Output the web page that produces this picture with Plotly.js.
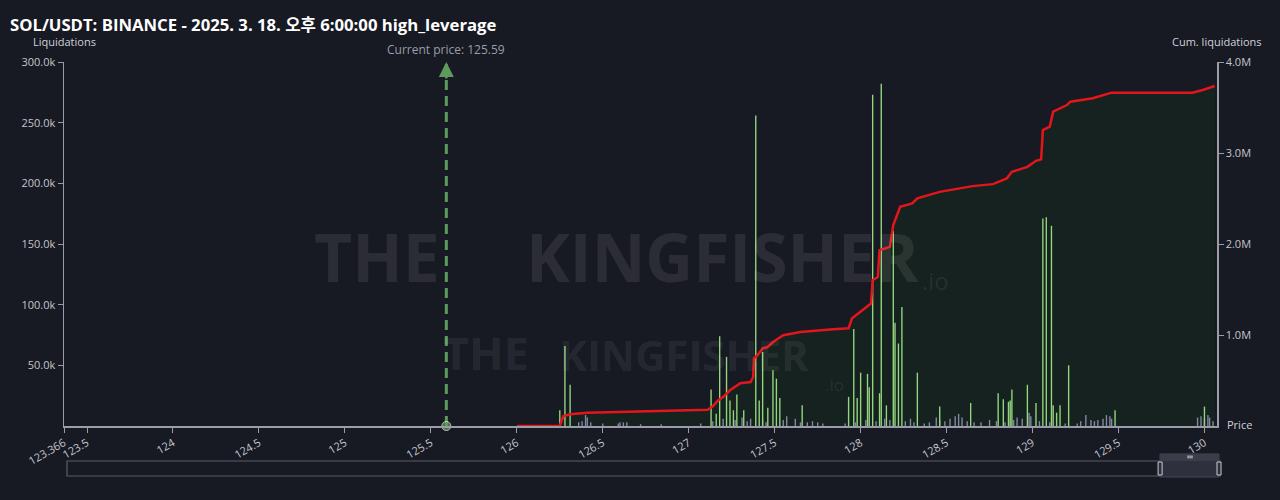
<!DOCTYPE html>
<html>
<head>
<meta charset="utf-8">
<script src="https://cdn.plot.ly/plotly-3.0.1.min.js"></script>
<style>
  html, body { margin: 0; padding: 0; background: #171923; }
  #chart { width: 1280px; height: 500px; }
</style>
</head>
<body>
<div id="chart"></div>
<script>
// liquidation bars (price, value)
var greenPrice = [126.25, 126.28, 126.31, 127.13, 127.16, 127.18, 127.22, 127.24, 127.26, 127.28, 127.32,
  127.39, 127.41, 127.43, 127.46, 127.49, 127.51, 127.53, 127.66, 127.93, 127.96, 127.98, 128.00, 128.04,
  128.05, 128.07, 128.11, 128.12, 128.15, 128.19, 128.20, 128.22, 128.24, 128.33, 128.46, 128.64, 128.80,
  128.83, 128.86, 128.87, 128.88, 128.97, 129.02, 129.06, 129.08, 129.11, 129.12, 129.14, 129.16, 129.21,
  129.48, 130.00];
var greenValue = [13000, 66000, 34000, 30000, 10000, 74000, 57000, 21000, 13000, 26000, 13000,
  256000, 21000, 61000, 15000, 46000, 39000, 23000, 17000, 24000, 80000, 23000, 44000, 43000,
  32000, 273000, 27000, 282000, 17000, 161000, 85000, 68000, 98000, 44000, 16000, 19000, 27000,
  22000, 20000, 21000, 30000, 34000, 19000, 171000, 172000, 165000, 17000, 11000, 17000, 50000,
  13000, 16000];

var grayPrice = [126.36, 126.38, 126.40, 126.41, 126.43, 126.50, 126.59, 126.60, 126.62, 126.64, 126.72,
  126.84, 127.07, 127.14, 127.20, 127.27, 127.31, 127.34, 127.36, 127.43, 127.45, 127.55, 127.57, 127.62,
  127.65, 127.69, 127.72, 127.75, 127.78, 127.91, 127.97, 128.03, 128.09, 128.14, 128.17, 128.26, 128.29,
  128.31, 128.37, 128.40, 128.44, 128.46, 128.49, 128.52, 128.55, 128.57, 128.59, 128.62, 128.66, 128.70,
  128.75, 128.79, 128.84, 128.89, 128.91, 128.94, 128.98, 128.99, 129.04, 129.10, 129.19, 129.26, 129.28,
  129.31, 129.34, 129.36, 129.38, 129.41, 129.43, 129.45, 129.46, 129.96, 129.98, 130.00, 130.02, 130.03,
  130.05];
var grayValue = [3000, 4000, 9000, 7000, 3000, 2000, 2000, 3000, 3000, 3000, 1500,
  1500, 2000, 4000, 6000, 5000, 7000, 4000, 6000, 5000, 3000, 5000, 8000, 6000,
  3000, 3000, 4000, 3000, 2000, 2000, 3000, 5000, 4000, 6000, 5000, 4000, 6000,
  3000, 2000, 3000, 7000, 5000, 4000, 6000, 8000, 10000, 7000, 4000, 3000, 3000,
  5000, 4000, 3000, 5000, 7000, 6000, 11000, 8000, 4000, 3000, 2000, 2000, 4000,
  9000, 5000, 4000, 5000, 6000, 9000, 8000, 6000, 7000, 8000, 6000, 9000, 7000,
  4000];

// cumulative liquidations line
var cumPrice = [126.00, 126.25, 126.27, 126.31, 126.41, 126.78, 127.11, 127.14, 127.17, 127.20, 127.24,
  127.30, 127.36, 127.375, 127.38, 127.40, 127.43, 127.46, 127.49, 127.55, 127.65, 127.84, 127.93, 127.95,
  128.00, 128.06, 128.07, 128.10, 128.11, 128.17, 128.19, 128.23, 128.30, 128.33, 128.46, 128.65, 128.77,
  128.85, 128.88, 128.97, 129.02, 129.05, 129.06, 129.10, 129.12, 129.20, 129.22, 129.35, 129.46, 129.93,
  129.99, 130.06];
var cumValue = [0, 0, 106000, 128000, 146000, 165000, 179000, 216000, 282000, 318000, 392000,
  469000, 483000, 538000, 744000, 777000, 854000, 868000, 923000, 997000, 1033000, 1063000, 1074000, 1184000,
  1253000, 1346000, 1602000, 1638000, 1932000, 1968000, 2207000, 2408000, 2446000, 2501000, 2573000, 2636000, 2658000,
  2721000, 2793000, 2848000, 2914000, 2930000, 3252000, 3289000, 3454000, 3527000, 3564000, 3601000, 3663000, 3663000,
  3692000, 3736000];

var currentPrice = 125.59;

var xTickVals = [123.366, 123.5, 124, 124.5, 125, 125.5, 126, 126.5, 127, 127.5, 128, 128.5, 129, 129.5, 130];
var xTickText = ['123.366', '123.5', '124', '124.5', '125', '125.5', '126', '126.5', '127', '127.5', '128', '128.5', '129', '129.5', '130'];
var leftTickVals = [50000, 100000, 150000, 200000, 250000, 300000];
var leftTickText = ['50.0k', '100.0k', '150.0k', '200.0k', '250.0k', '300.0k'];
var rightTickVals = [1000000, 2000000, 3000000, 4000000];
var rightTickText = ['1.0M', '2.0M', '3.0M', '4.0M'];

var axisColor = '#9a9ca8';
var tickFont = {family: 'Open Sans, sans-serif', size: 11, color: '#c4c6cf'};
var labelFont = {family: 'Open Sans, sans-serif', size: 11, color: '#d0d2da'};
var priceGreen = '#5f9a5d';

var traces = [
  {x: cumPrice, y: cumValue, yaxis: 'y', type: 'scatter', mode: 'none',
   fill: 'tozeroy', fillcolor: '#16221f', hoverinfo: 'skip'},
  {x: grayPrice, y: grayValue, yaxis: 'y2', type: 'bar', width: 0.008,
   marker: {color: '#8587a2', line: {width: 0}}},
  {x: greenPrice, y: greenValue, yaxis: 'y2', type: 'bar', width: 0.008,
   marker: {color: '#93d67e', line: {width: 0}}},
  {x: [currentPrice, currentPrice], y: [0, 300000], yaxis: 'y2', type: 'scatter', mode: 'lines+markers',
   line: {color: priceGreen, width: 3, dash: '10px,6px'},
   marker: {size: [9, 0], color: priceGreen}, cliponaxis: false},
  {x: cumPrice, y: cumValue, yaxis: 'y3', type: 'scatter', mode: 'lines',
   line: {color: '#e3161b', width: 2.5}}
];

var wm = 'rgba(255,255,255,0.085)';
var wmFont = 'Open Sans, sans-serif';

// range slider drawn as plain shapes below the x axis
var sliderShapes = [
  {type: 'rect', xref: 'paper', yref: 'paper', x0: 0.0026, x1: 1.0026, y0: -0.1374, y1: -0.0962,
   fillcolor: 'rgba(0,0,0,0)', line: {color: '#5a5d6a', width: 1.2}},
  {type: 'rect', xref: 'paper', yref: 'paper', x0: 0.9506, x1: 1.0017, y0: -0.1401, y1: -0.0769,
   fillcolor: '#2e313d', line: {color: '#464957', width: 1}},
  {type: 'rect', xref: 'paper', yref: 'paper', x0: 0.9506, x1: 1.0017, y0: -0.0962, y1: -0.0769,
   fillcolor: '#3a3d4a', line: {width: 0}},
  {type: 'rect', xref: 'paper', yref: 'paper', x0: 0.9489, x1: 0.9524, y0: -0.1346, y1: -0.0989,
   fillcolor: '#2e313d', line: {color: '#c8cad2', width: 1}},
  {type: 'rect', xref: 'paper', yref: 'paper', x0: 1.0000, x1: 1.0035, y0: -0.1346, y1: -0.0989,
   fillcolor: '#2e313d', line: {color: '#c8cad2', width: 1}},
  {type: 'line', xref: 'paper', yref: 'paper', x0: 0.9749, x1: 0.9749, y0: -0.0810, y1: -0.0890,
   line: {color: '#e6e7ec', width: 1}},
  {type: 'line', xref: 'paper', yref: 'paper', x0: 0.9766, x1: 0.9766, y0: -0.0810, y1: -0.0890,
   line: {color: '#e6e7ec', width: 1}},
  {type: 'line', xref: 'paper', yref: 'paper', x0: 0.9783, x1: 0.9783, y0: -0.0810, y1: -0.0890,
   line: {color: '#e6e7ec', width: 1}}
];

var layout = {
  width: 1280, height: 500,
  paper_bgcolor: '#171923', plot_bgcolor: '#171923',
  showlegend: false,
  barmode: 'overlay',
  margin: {l: 64, r: 63, t: 62, b: 74},
  title: {text: 'SOL/USDT: BINANCE - 2025. 3. 18. 오후 6:00:00 high_leverage',
          x: 10 / 1280, xanchor: 'left', xref: 'container', y: 0.95, yanchor: 'middle',
          font: {family: 'Open Sans, Noto Sans CJK KR, sans-serif', size: 16.7, weight: 'bold', color: '#ffffff'}},
  xaxis: {range: [123.366, 130.073], tickvals: xTickVals, ticktext: xTickText, tickangle: -30,
          tickfont: tickFont, showgrid: false, zeroline: false, showline: true, linecolor: axisColor,
          linewidth: 1.5, ticks: 'outside', ticklen: 5, tickcolor: axisColor},
  yaxis: {range: [0, 4000000], side: 'right', tickvals: rightTickVals, ticktext: rightTickText,
          tickfont: tickFont, showgrid: false, zeroline: false, showline: true, linecolor: axisColor,
          linewidth: 1.5, ticks: 'outside', ticklen: 5, tickcolor: axisColor},
  yaxis2: {range: [0, 300000], overlaying: 'y', side: 'left', anchor: 'x', tickvals: leftTickVals,
           ticktext: leftTickText, tickfont: tickFont, showgrid: false, zeroline: false, showline: true,
           linecolor: axisColor, linewidth: 1.5, ticks: 'outside', ticklen: 5, tickcolor: axisColor},
  yaxis3: {range: [0, 4000000], overlaying: 'y', visible: false},
  shapes: sliderShapes,
  annotations: [
    {xref: 'paper', yref: 'paper', x: 0, y: 1, xanchor: 'center', yanchor: 'bottom', yshift: 11,
     text: 'Liquidations', showarrow: false, font: labelFont},
    {xref: 'paper', yref: 'paper', x: 1, y: 1, xanchor: 'center', yanchor: 'bottom', yshift: 11,
     text: 'Cum. liquidations', showarrow: false, font: labelFont},
    {xref: 'paper', yref: 'paper', x: 1, y: 0, xshift: 8, xanchor: 'left', yanchor: 'middle', yshift: 2,
     text: 'Price', showarrow: false, font: labelFont},
    {xref: 'x', yref: 'paper', x: currentPrice, y: 1, xanchor: 'center', yanchor: 'bottom', yshift: 2,
     text: 'Current price: ' + currentPrice, showarrow: false,
     font: {family: 'Open Sans, sans-serif', size: 12, color: '#9a9ea8'}},
    {xref: 'x', yref: 'y2', x: currentPrice, y: 300000, ax: 0, ay: 18, text: '', showarrow: true,
     arrowhead: 2, arrowsize: 1.2, arrowwidth: 2.5, arrowcolor: priceGreen},
    // watermark
    {xref: 'paper', yref: 'paper', x: 0.2715, y: 0.467, xanchor: 'center', text: 'THE', showarrow: false,
     font: {family: wmFont, size: 66, weight: 'bold', color: wm}},
    {xref: 'paper', yref: 'paper', x: 0.5707, y: 0.467, xanchor: 'center', text: 'KINGFISHER', showarrow: false,
     font: {family: wmFont, size: 66, weight: 'bold', color: wm}},
    {xref: 'paper', yref: 'paper', x: 0.756, y: 0.40, xanchor: 'center', text: '.io', showarrow: false,
     font: {family: wmFont, size: 24, color: wm}},
    {xref: 'paper', yref: 'paper', x: 0.366, y: 0.113, xanchor: 'center', text: 'THE', showarrow: false,
     font: {family: wmFont, size: 45, weight: 'bold', color: wm}},
    {xref: 'paper', yref: 'paper', x: 0.538, y: 0.113, xanchor: 'center', text: 'KINGFISHER', showarrow: false,
     font: {family: wmFont, size: 42, weight: 'bold', color: wm}},
    {xref: 'paper', yref: 'paper', x: 0.668, y: 0.078, xanchor: 'center', text: '.io', showarrow: false,
     font: {family: wmFont, size: 17, color: wm}}
  ]
};

Plotly.newPlot('chart', traces, layout, {displayModeBar: false, staticPlot: true});
</script>
</body>
</html>
